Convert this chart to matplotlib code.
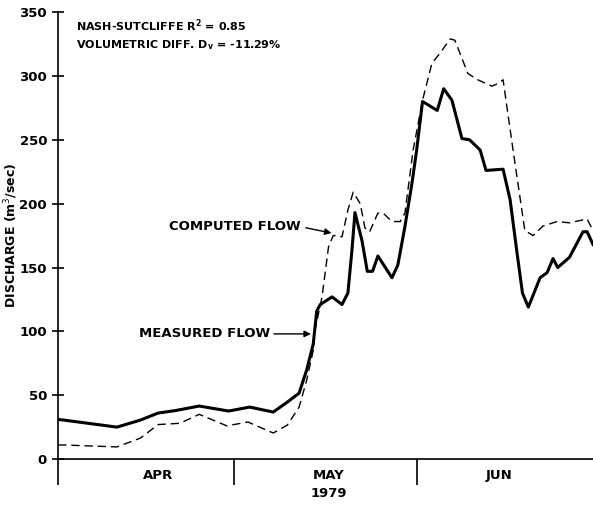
import matplotlib
matplotlib.use("Agg")
import matplotlib.pyplot as plt
import numpy as np

# days since 1 April 1979
meas_day = [0, 1, 10, 14, 17, 20, 24, 29, 32.6, 36.6, 39, 41, 42.3, 43.4, 44, 44.6,
            46.6, 48.3, 49.3, 50, 50.5, 51.7, 52.6, 53.5, 54.4, 56.8, 57.8, 59, 60.2,
            61, 62, 64.5, 65.6, 67, 68.7, 70, 71.8, 72.8, 75.7, 76.9, 78, 79, 80, 82,
            83.2, 84.2, 85, 87, 89.3, 90, 91]
meas_q = [31, 30.5, 25, 30.5, 36, 38, 41.5, 37.6, 40.7, 36.8, 44.6, 51.6, 70, 90, 116,
          121, 127, 121, 130, 164, 193, 171, 147, 147, 159, 142, 152, 182, 216,
          242, 280, 273, 290, 281, 251, 250, 242, 226, 227, 203, 164, 130, 119, 142,
          146, 157, 150, 158, 178, 178, 168]

comp_day = [0, 1, 10, 14, 17, 20.7, 24, 28.7, 32.3, 36.6, 39, 41, 42.3, 43.4, 43.7,
            44.9, 46, 46.8, 47.6, 48.3, 49.3, 50.2, 51.4, 52.2, 53, 54.4, 55.3, 56.8,
            58.2, 59, 60.4, 62, 63.6, 65, 66.7, 67.5, 69.7, 71.4, 73.8, 74.8, 75.7,
            77.4, 79.4, 80.8, 82.5, 84.9, 87, 90, 91]
comp_q = [11, 11, 9.5, 16.4, 27, 28, 35, 26, 29, 20.4, 26.6, 40.7, 62, 85, 101,
          127, 166, 175, 175, 174, 195, 209, 200, 181, 178, 192.6, 192.6, 186,
          186, 192.6, 242, 281, 310, 318, 329, 328, 302, 297, 292, 294, 297,
          242, 179, 175, 182.5, 186, 185, 188, 179]

month_edges = [0, 30, 61]
month_labels = ["APR", "MAY", "JUN"]
month_label_pos = [17, 46, 75]
y_ticks = [0, 50, 100, 150, 200, 250, 300, 350]

fig = plt.figure(figsize=(5.93, 5.05), dpi=100)
ax = fig.add_axes([0.098, 0.091, 0.902, 0.885])

ax.plot(comp_day, comp_q, color="black", lw=1.0, dashes=(6, 3.5))
ax.plot(meas_day, meas_q, color="black", lw=2.2, solid_joinstyle="round")

ax.set_xlim(0, 91)
ax.set_ylim(0, 350)
for s in ["top", "right"]:
    ax.spines[s].set_visible(False)
ax.spines["left"].set_linewidth(1.2)
ax.spines["bottom"].set_linewidth(1.2)

ax.set_yticks(y_ticks)
ax.set_yticklabels([str(v) for v in y_ticks], fontweight="bold", fontsize=9.5)
ax.tick_params(axis="y", direction="inout", length=8, width=1.2, pad=4)

ax.set_xticks(month_edges)
ax.set_xticklabels([])
ax.tick_params(axis="x", direction="out", length=19, width=1.2)

for pos, lab in zip(month_label_pos, month_labels):
    ax.text(pos, -12.5, lab, ha="center", va="center", fontsize=9.5, fontweight="bold")
ax.text(46, -27, "1979", ha="center", va="center", fontsize=9.5, fontweight="bold")

ax.set_ylabel("DISCHARGE (m$^3$/sec)", fontsize=9, fontweight="bold")
ax.yaxis.set_label_coords(-0.072, 0.5)

ax.text(3, 339, "NASH-SUTCLIFFE R$^{\\bf 2}$ = 0.85", fontsize=8, fontweight="bold",
        va="center")
ax.text(3, 324, "VOLUMETRIC DIFF. D$_{\\bf v}$ = -11.29%", fontsize=8, fontweight="bold",
        va="center")

# labels with arrows
ax.annotate("COMPUTED FLOW", xy=(46.5, 177), xytext=(41.2, 182), ha="right",
            va="center", fontsize=9.5, fontweight="bold",
            arrowprops=dict(arrowstyle="-|>", color="black", lw=1, shrinkA=2, shrinkB=0,
                            relpos=(1, 0.5)))
ax.annotate("MEASURED FLOW", xy=(43, 98), xytext=(36, 98), ha="right",
            va="center", fontsize=9.5, fontweight="bold",
            arrowprops=dict(arrowstyle="-|>", color="black", lw=1, shrinkA=1, shrinkB=0))

fig.savefig("out.png", dpi=100)
